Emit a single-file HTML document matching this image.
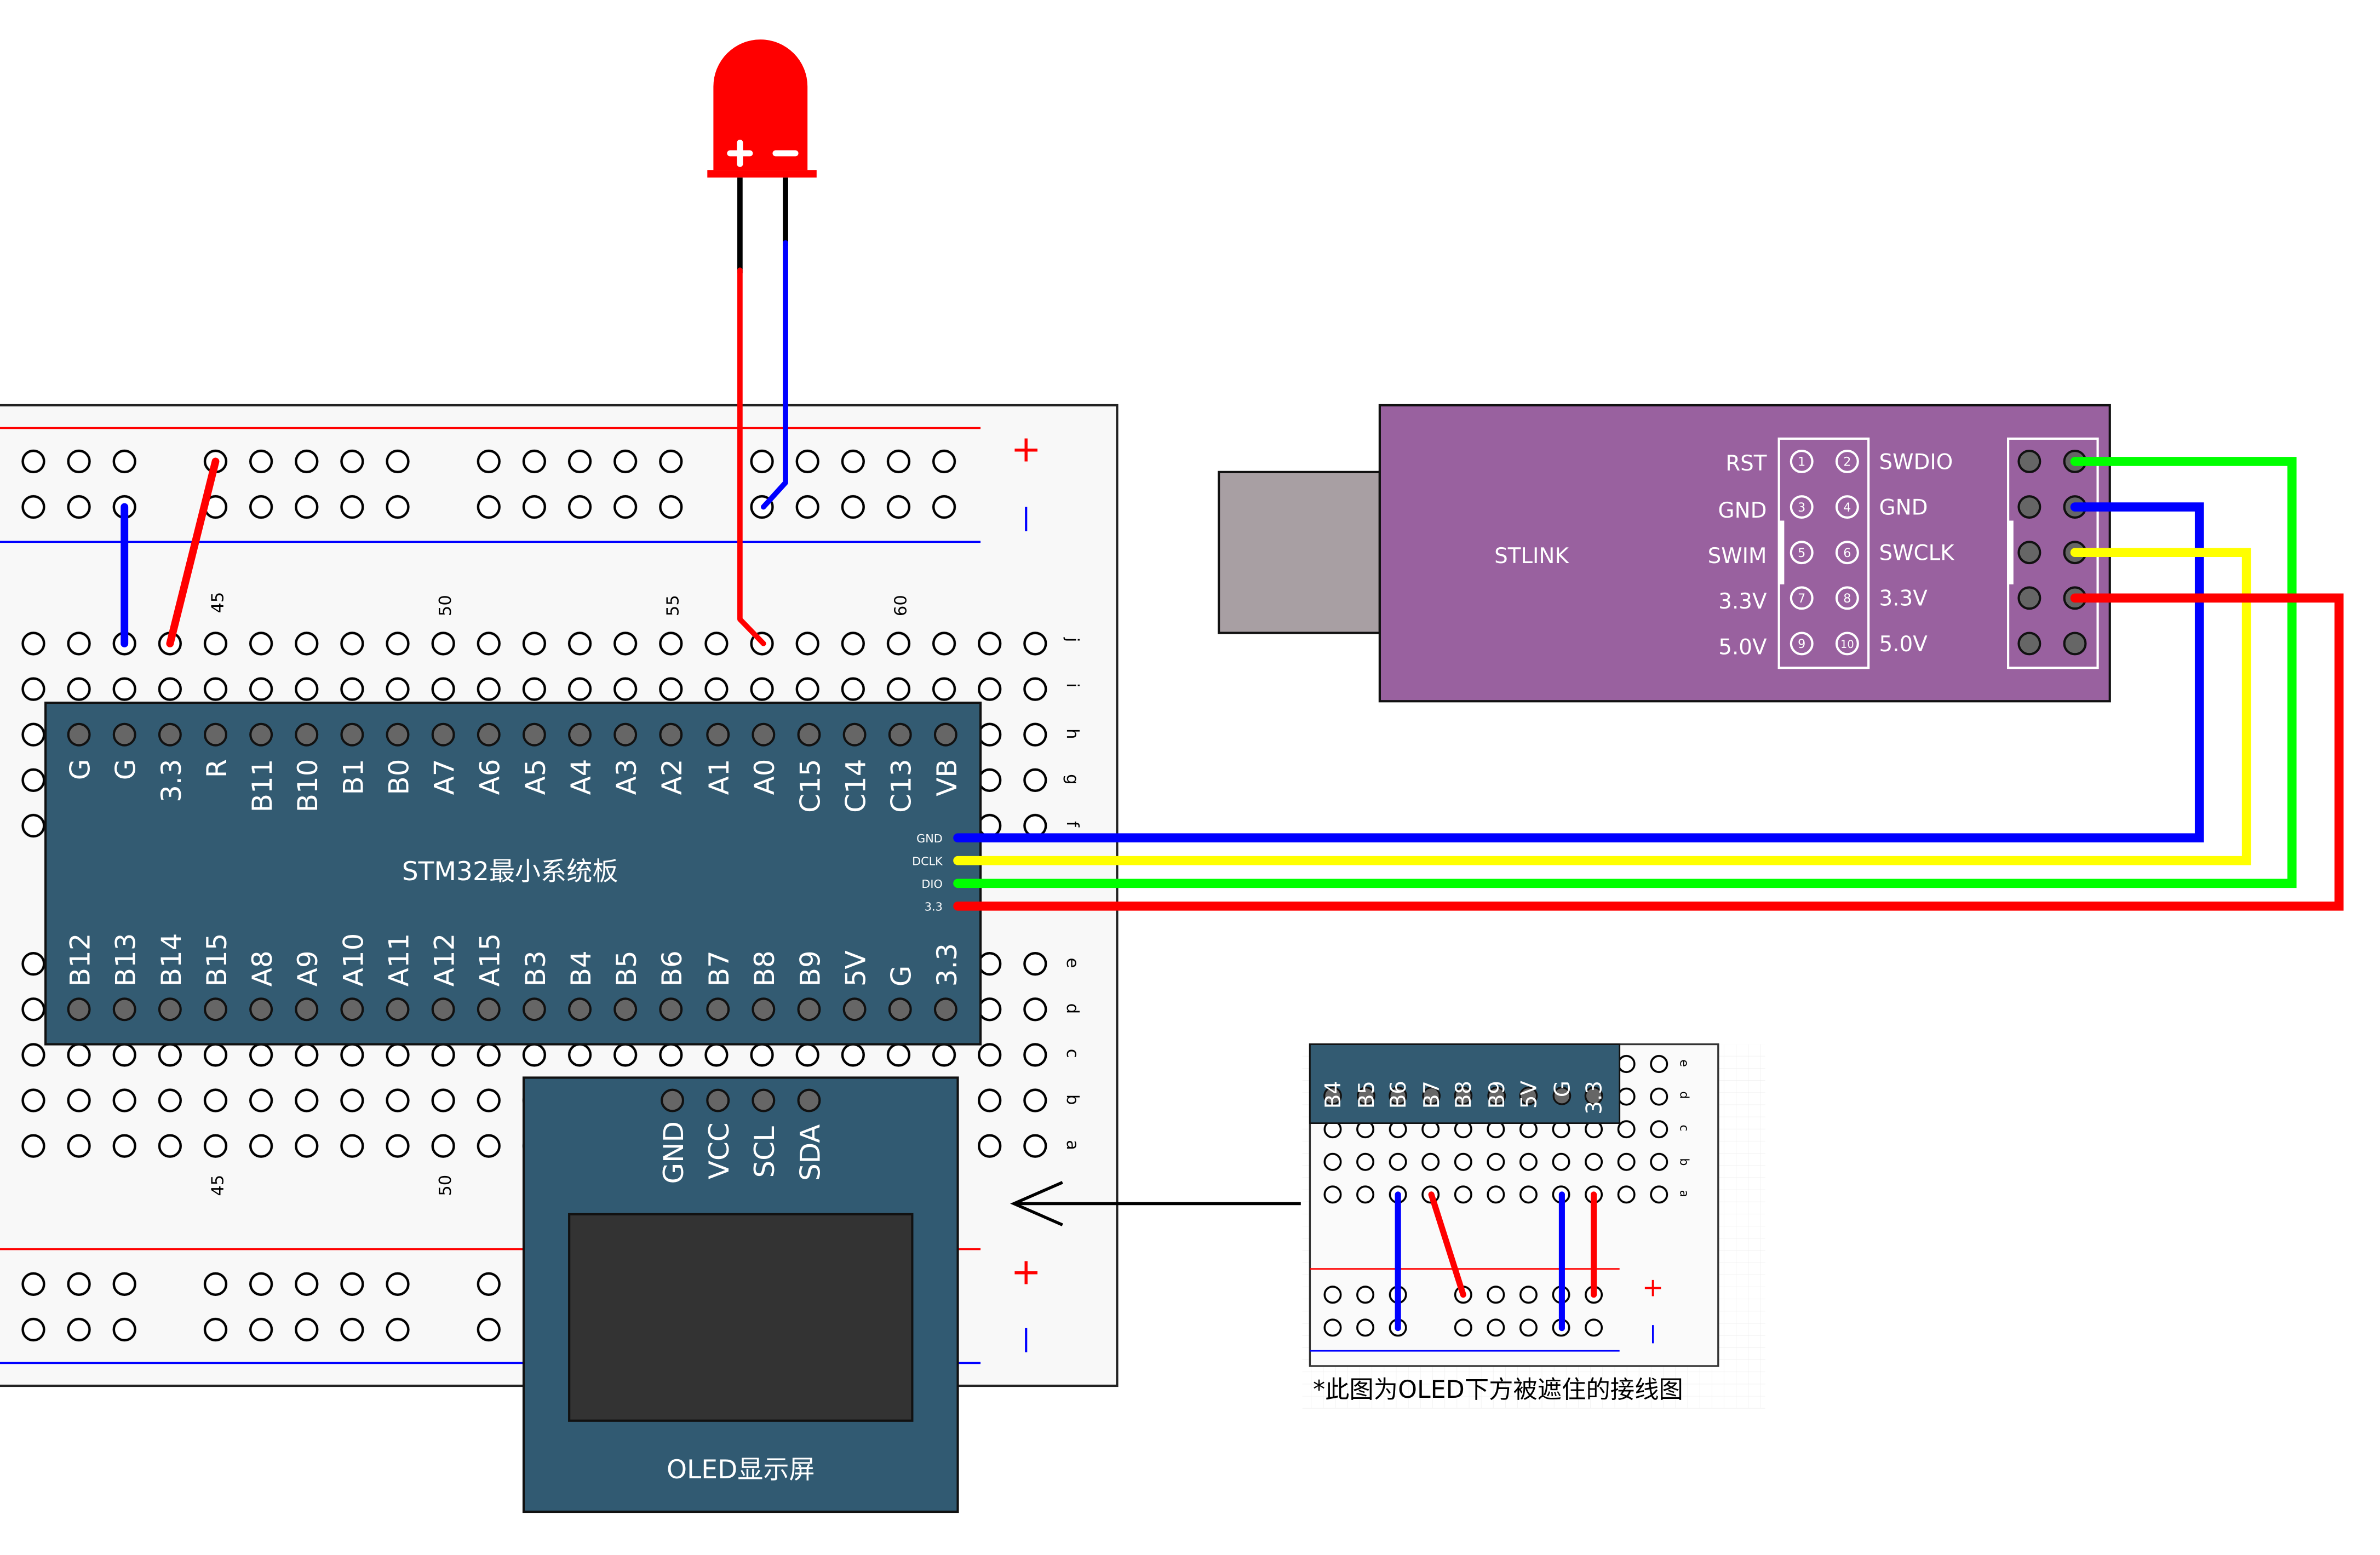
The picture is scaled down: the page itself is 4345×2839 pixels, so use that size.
<!DOCTYPE html>
<html><head><meta charset="utf-8"><style>html,body{margin:0;padding:0;background:#fff}svg{display:block}</style></head>
<body>
<svg xmlns="http://www.w3.org/2000/svg" width="4345" height="2839" viewBox="0 0 1568 1024.5" preserveAspectRatio="none" font-family="'DejaVu Sans','Liberation Sans','Noto Sans CJK SC',sans-serif">
<defs>
<pattern id="pa" patternUnits="userSpaceOnUse" x="7" y="409" width="30" height="30"><circle cx="15" cy="15" r="7" fill="#fff" stroke="#000" stroke-width="1.6"/></pattern>
<pattern id="pb" patternUnits="userSpaceOnUse" x="7" y="620" width="30" height="30"><circle cx="15" cy="15" r="7" fill="#fff" stroke="#000" stroke-width="1.6"/></pattern>
<pattern id="pc" patternUnits="userSpaceOnUse" x="7" y="289" width="30" height="30"><circle cx="15" cy="15" r="7" fill="#fff" stroke="#000" stroke-width="1.6"/></pattern>
<pattern id="pd" patternUnits="userSpaceOnUse" x="7" y="831" width="30" height="30"><circle cx="15" cy="15" r="7" fill="#fff" stroke="#000" stroke-width="1.6"/></pattern>
<pattern id="pe" patternUnits="userSpaceOnUse" x="867.25" y="690.25" width="21.5" height="21.5"><circle cx="10.75" cy="10.75" r="5.3" fill="#fff" stroke="#000" stroke-width="1.3"/></pattern>
<pattern id="pf" patternUnits="userSpaceOnUse" x="867.25" y="842.25" width="21.5" height="21.7"><circle cx="10.75" cy="10.75" r="5.3" fill="#fff" stroke="#000" stroke-width="1.3"/></pattern>
<pattern id="grid" patternUnits="userSpaceOnUse" width="8" height="8"><path d="M8 0V8M0 8H8" stroke="#eee" stroke-width="0.5" fill="none"/></pattern>
</defs>

<rect x="-5" y="267" width="741" height="646" fill="#f8f8f8" stroke="#222" stroke-width="1.5"/>
<line x1="0" y1="282" x2="646" y2="282" stroke="#f00" stroke-width="1.3"/>
<line x1="0" y1="357" x2="646" y2="357" stroke="#00f" stroke-width="1.3"/>
<rect x="7" y="289" width="90" height="60" fill="url(#pc)"/>
<rect x="127" y="289" width="150" height="60" fill="url(#pc)"/>
<rect x="307" y="289" width="150" height="60" fill="url(#pc)"/>
<rect x="488" y="289" width="150" height="60" fill="url(#pc)"/>
<text x="676" y="304" fill="#f00" font-size="24" text-anchor="middle">+</text>
<line x1="676" y1="334" x2="676" y2="350" stroke="#00f" stroke-width="1.5"/>
<g font-size="11" fill="#000">
<text transform="translate(147,404) rotate(-90)">45</text>
<text transform="translate(297,406) rotate(-90)">50</text>
<text transform="translate(447,406) rotate(-90)">55</text>
<text transform="translate(597,406) rotate(-90)">60</text>
<text transform="translate(147,788) rotate(-90)">45</text>
<text transform="translate(297,788) rotate(-90)">50</text>
</g>
<rect x="7" y="409" width="690" height="150" fill="url(#pa)"/>
<rect x="7" y="620" width="690" height="150" fill="url(#pb)"/>
<g font-size="11" fill="#000">
<text transform="translate(703,420) rotate(90)">j</text>
<text transform="translate(703,450) rotate(90)">i</text>
<text transform="translate(703,480) rotate(90)">h</text>
<text transform="translate(703,510) rotate(90)">g</text>
<text transform="translate(703,541) rotate(90)">f</text>
<text transform="translate(703,631) rotate(90)">e</text>
<text transform="translate(703,661) rotate(90)">d</text>
<text transform="translate(703,691) rotate(90)">c</text>
<text transform="translate(703,721) rotate(90)">b</text>
<text transform="translate(703,751) rotate(90)">a</text>
</g>
<line x1="0" y1="823" x2="646" y2="823" stroke="#f00" stroke-width="1.3"/>
<line x1="0" y1="898" x2="646" y2="898" stroke="#00f" stroke-width="1.3"/>
<rect x="7" y="831" width="90" height="60" fill="url(#pd)"/>
<rect x="127" y="831" width="150" height="60" fill="url(#pd)"/>
<rect x="307" y="831" width="30" height="60" fill="url(#pd)"/>
<text x="676" y="846" fill="#f00" font-size="24" text-anchor="middle">+</text>
<line x1="676" y1="875" x2="676" y2="891" stroke="#00f" stroke-width="1.5"/>

<rect x="30" y="463" width="616" height="225" fill="#335b72" stroke="#111" stroke-width="1.5"/>
<g fill="#666" stroke="#111" stroke-width="1.5">
<circle cx="52" cy="484" r="7"/><circle cx="82" cy="484" r="7"/><circle cx="112" cy="484" r="7"/><circle cx="142" cy="484" r="7"/><circle cx="172" cy="484" r="7"/><circle cx="202" cy="484" r="7"/><circle cx="232" cy="484" r="7"/><circle cx="262" cy="484" r="7"/><circle cx="292" cy="484" r="7"/><circle cx="322" cy="484" r="7"/><circle cx="352" cy="484" r="7"/><circle cx="382" cy="484" r="7"/><circle cx="412" cy="484" r="7"/><circle cx="442" cy="484" r="7"/><circle cx="473" cy="484" r="7"/><circle cx="503" cy="484" r="7"/><circle cx="533" cy="484" r="7"/><circle cx="563" cy="484" r="7"/><circle cx="593" cy="484" r="7"/><circle cx="623" cy="484" r="7"/>
<circle cx="52" cy="665" r="7"/><circle cx="82" cy="665" r="7"/><circle cx="112" cy="665" r="7"/><circle cx="142" cy="665" r="7"/><circle cx="172" cy="665" r="7"/><circle cx="202" cy="665" r="7"/><circle cx="232" cy="665" r="7"/><circle cx="262" cy="665" r="7"/><circle cx="292" cy="665" r="7"/><circle cx="322" cy="665" r="7"/><circle cx="352" cy="665" r="7"/><circle cx="382" cy="665" r="7"/><circle cx="412" cy="665" r="7"/><circle cx="442" cy="665" r="7"/><circle cx="473" cy="665" r="7"/><circle cx="503" cy="665" r="7"/><circle cx="533" cy="665" r="7"/><circle cx="563" cy="665" r="7"/><circle cx="593" cy="665" r="7"/><circle cx="623" cy="665" r="7"/>
</g>
<g fill="#fff" font-size="18" text-anchor="end">
<text transform="translate(59,500) rotate(-90)">G</text><text transform="translate(89,500) rotate(-90)">G</text><text transform="translate(119,500) rotate(-90)">3.3</text><text transform="translate(149,500) rotate(-90)">R</text><text transform="translate(179,500) rotate(-90)">B11</text><text transform="translate(209,500) rotate(-90)">B10</text><text transform="translate(239,500) rotate(-90)">B1</text><text transform="translate(269,500) rotate(-90)">B0</text><text transform="translate(299,500) rotate(-90)">A7</text><text transform="translate(329,500) rotate(-90)">A6</text><text transform="translate(359,500) rotate(-90)">A5</text><text transform="translate(389,500) rotate(-90)">A4</text><text transform="translate(419,500) rotate(-90)">A3</text><text transform="translate(449,500) rotate(-90)">A2</text><text transform="translate(480,500) rotate(-90)">A1</text><text transform="translate(510,500) rotate(-90)">A0</text><text transform="translate(540,500) rotate(-90)">C15</text><text transform="translate(570,500) rotate(-90)">C14</text><text transform="translate(600,500) rotate(-90)">C13</text><text transform="translate(630,500) rotate(-90)">VB</text>
</g>
<g fill="#fff" font-size="18" text-anchor="start">
<text transform="translate(59,650) rotate(-90)">B12</text><text transform="translate(89,650) rotate(-90)">B13</text><text transform="translate(119,650) rotate(-90)">B14</text><text transform="translate(149,650) rotate(-90)">B15</text><text transform="translate(179,650) rotate(-90)">A8</text><text transform="translate(209,650) rotate(-90)">A9</text><text transform="translate(239,650) rotate(-90)">A10</text><text transform="translate(269,650) rotate(-90)">A11</text><text transform="translate(299,650) rotate(-90)">A12</text><text transform="translate(329,650) rotate(-90)">A15</text><text transform="translate(359,650) rotate(-90)">B3</text><text transform="translate(389,650) rotate(-90)">B4</text><text transform="translate(419,650) rotate(-90)">B5</text><text transform="translate(449,650) rotate(-90)">B6</text><text transform="translate(480,650) rotate(-90)">B7</text><text transform="translate(510,650) rotate(-90)">B8</text><text transform="translate(540,650) rotate(-90)">B9</text><text transform="translate(570,650) rotate(-90)">5V</text><text transform="translate(600,650) rotate(-90)">G</text><text transform="translate(630,650) rotate(-90)">3.3</text>
</g>
<text x="336" y="580" fill="#fff" font-size="17" text-anchor="middle">STM32最小系统板</text>
<g fill="#fff" font-size="7.5" text-anchor="end">
<text x="621" y="555">GND</text><text x="621" y="570">DCLK</text><text x="621" y="585">DIO</text><text x="621" y="600">3.3</text>
</g>

<path d="M470 112 V57 A31 31 0 0 1 532 57 V112 Z" fill="#f00"/>
<rect x="466" y="112" width="72" height="5" fill="#f00"/>
<g stroke="#fff" stroke-width="4" stroke-linecap="round"><line x1="481" y1="101" x2="494" y2="101"/><line x1="487.5" y1="94" x2="487.5" y2="108"/><line x1="511" y1="101" x2="524" y2="101"/></g>
<line x1="487.5" y1="117" x2="487.5" y2="180" stroke="#000" stroke-width="3.5"/>
<line x1="517.5" y1="117" x2="517.5" y2="162" stroke="#000" stroke-width="3.5"/>
<polyline points="487.5,178 487.5,408 503,424" fill="none" stroke="#f00" stroke-width="3.5" stroke-linecap="round" stroke-linejoin="round"/>
<polyline points="517.5,160 517.5,318 503,334" fill="none" stroke="#00f" stroke-width="3.5" stroke-linecap="round" stroke-linejoin="round"/>

<line x1="82" y1="334" x2="82" y2="424" stroke="#00f" stroke-width="5" stroke-linecap="round"/>
<line x1="142" y1="304" x2="112" y2="424" stroke="#f00" stroke-width="5" stroke-linecap="round"/>

<rect x="803" y="311" width="106" height="106" fill="#a89fa3" stroke="#111" stroke-width="1.5"/>
<rect x="909" y="267" width="481" height="195" fill="#99619f" stroke="#111" stroke-width="1.5"/>
<text x="1009" y="371" fill="#fff" font-size="14" text-anchor="middle">STLINK</text>
<rect x="1172" y="289" width="59" height="151" fill="none" stroke="#fff" stroke-width="1.5"/>
<line x1="1174" y1="343" x2="1174" y2="385" stroke="#fff" stroke-width="3"/>
<g fill="none" stroke="#fff" stroke-width="1.5">
<circle cx="1187" cy="304" r="7"/><circle cx="1217" cy="304" r="7"/><circle cx="1187" cy="334" r="7"/><circle cx="1217" cy="334" r="7"/><circle cx="1187" cy="364" r="7"/><circle cx="1217" cy="364" r="7"/><circle cx="1187" cy="394" r="7"/><circle cx="1217" cy="394" r="7"/><circle cx="1187" cy="424" r="7"/><circle cx="1217" cy="424" r="7"/>
</g>
<g fill="#fff" font-size="8" text-anchor="middle">
<text x="1187" y="307">1</text><text x="1217" y="307">2</text><text x="1187" y="337">3</text><text x="1217" y="337">4</text><text x="1187" y="367">5</text><text x="1217" y="367">6</text><text x="1187" y="397">7</text><text x="1217" y="397">8</text><text x="1187" y="427">9</text><text x="1217" y="427" font-size="7">10</text>
</g>
<g fill="#fff" font-size="14" text-anchor="end">
<text x="1164" y="310">RST</text><text x="1164" y="341">GND</text><text x="1164" y="371">SWIM</text><text x="1164" y="401">3.3V</text><text x="1164" y="431">5.0V</text>
</g>
<g fill="#fff" font-size="14">
<text x="1238" y="309">SWDIO</text><text x="1238" y="339">GND</text><text x="1238" y="369">SWCLK</text><text x="1238" y="399">3.3V</text><text x="1238" y="429">5.0V</text>
</g>
<rect x="1323" y="289" width="59" height="151" fill="none" stroke="#fff" stroke-width="1.5"/>
<line x1="1325" y1="343" x2="1325" y2="385" stroke="#fff" stroke-width="3"/>
<g fill="#666" stroke="#111" stroke-width="1.5">
<circle cx="1337" cy="304" r="7"/><circle cx="1367" cy="304" r="7"/><circle cx="1337" cy="334" r="7"/><circle cx="1367" cy="334" r="7"/><circle cx="1337" cy="364" r="7"/><circle cx="1367" cy="364" r="7"/><circle cx="1337" cy="394" r="7"/><circle cx="1367" cy="394" r="7"/><circle cx="1337" cy="424" r="7"/><circle cx="1367" cy="424" r="7"/>
</g>

<g fill="none" stroke-width="6" stroke-linecap="round" stroke-linejoin="miter">
<polyline points="631,552 1449,552 1449,334 1367,334" stroke="#00f"/>
<polyline points="631,567 1480,567 1480,364 1367,364" stroke="#ff0"/>
<polyline points="631,582 1510,582 1510,304 1367,304" stroke="#0f0"/>
<polyline points="631,597 1541,597 1541,394 1367,394" stroke="#f00"/>
</g>

<rect x="345" y="710" width="286" height="286" fill="#315a72" stroke="#111" stroke-width="1.5"/>
<g fill="#666" stroke="#111" stroke-width="1.5">
<circle cx="443" cy="725" r="7"/><circle cx="473" cy="725" r="7"/><circle cx="503" cy="725" r="7"/><circle cx="533" cy="725" r="7"/>
</g>
<g fill="#fff" font-size="18" text-anchor="start">
<text transform="translate(450,780) rotate(-90)">GND</text><text transform="translate(480,777) rotate(-90)">VCC</text><text transform="translate(510,776) rotate(-90)">SCL</text><text transform="translate(540,778) rotate(-90)">SDA</text>
</g>
<rect x="375" y="800" width="226" height="136" fill="#333" stroke="#111" stroke-width="1.5"/>
<text x="488" y="974" fill="#fff" font-size="17" text-anchor="middle">OLED显示屏</text>

<line x1="857" y1="793" x2="668" y2="793" stroke="#000" stroke-width="2"/>
<polyline points="700,779 668,793 700,807" fill="none" stroke="#000" stroke-width="2"/>

<rect x="858" y="688" width="305" height="240" fill="url(#grid)"/>
<rect x="863" y="688" width="269" height="212" fill="#fafafa" stroke="#333" stroke-width="1.2"/>
<rect x="867.25" y="690.25" width="236.5" height="107.5" fill="url(#pe)"/>
<rect x="863" y="688" width="204" height="52" fill="#335b72" stroke="#111" stroke-width="1"/>
<g fill="#666" stroke="#111" stroke-width="1.2">
<circle cx="878" cy="722" r="5.5"/><circle cx="900" cy="722" r="5.5"/><circle cx="921" cy="722" r="5.5"/><circle cx="943" cy="722" r="5.5"/><circle cx="964" cy="722" r="5.5"/><circle cx="986" cy="722" r="5.5"/><circle cx="1007" cy="722" r="5.5"/><circle cx="1029" cy="722" r="5.5"/><circle cx="1050" cy="722" r="5.5"/>
</g>
<g fill="#fff" font-size="14" text-anchor="end">
<text transform="translate(883,712) rotate(-90)">B4</text><text transform="translate(905,712) rotate(-90)">B5</text><text transform="translate(926,712) rotate(-90)">B6</text><text transform="translate(948,712) rotate(-90)">B7</text><text transform="translate(969,712) rotate(-90)">B8</text><text transform="translate(991,712) rotate(-90)">B9</text><text transform="translate(1012,712) rotate(-90)">5V</text><text transform="translate(1034,712) rotate(-90)">G</text><text transform="translate(1055,712) rotate(-90)">3.3</text>
</g>
<g font-size="8" fill="#000">
<text transform="translate(1107,698) rotate(90)">e</text><text transform="translate(1107,719) rotate(90)">d</text><text transform="translate(1107,741) rotate(90)">c</text><text transform="translate(1107,763) rotate(90)">b</text><text transform="translate(1107,784) rotate(90)">a</text>
</g>
<line x1="863" y1="836" x2="1067" y2="836" stroke="#f00" stroke-width="1"/>
<line x1="863" y1="890" x2="1067" y2="890" stroke="#00f" stroke-width="1"/>
<rect x="867.25" y="842.25" width="64.5" height="43.4" fill="url(#pf)"/>
<rect x="953.25" y="842.25" width="107.5" height="43.4" fill="url(#pf)"/>
<text x="1089" y="854" fill="#f00" font-size="17" text-anchor="middle">+</text>
<line x1="1089" y1="873" x2="1089" y2="885" stroke="#00f" stroke-width="1.2"/>
<g stroke-width="4" stroke-linecap="round">
<line x1="921" y1="787" x2="921" y2="875" stroke="#00f"/>
<line x1="943" y1="787" x2="964" y2="853" stroke="#f00"/>
<line x1="1029" y1="787" x2="1029" y2="875" stroke="#00f"/>
<line x1="1050" y1="787" x2="1050" y2="853" stroke="#f00"/>
</g>
<text x="865" y="921" fill="#000" font-size="16">*此图为OLED下方被遮住的接线图</text>
</svg>
</body></html>
